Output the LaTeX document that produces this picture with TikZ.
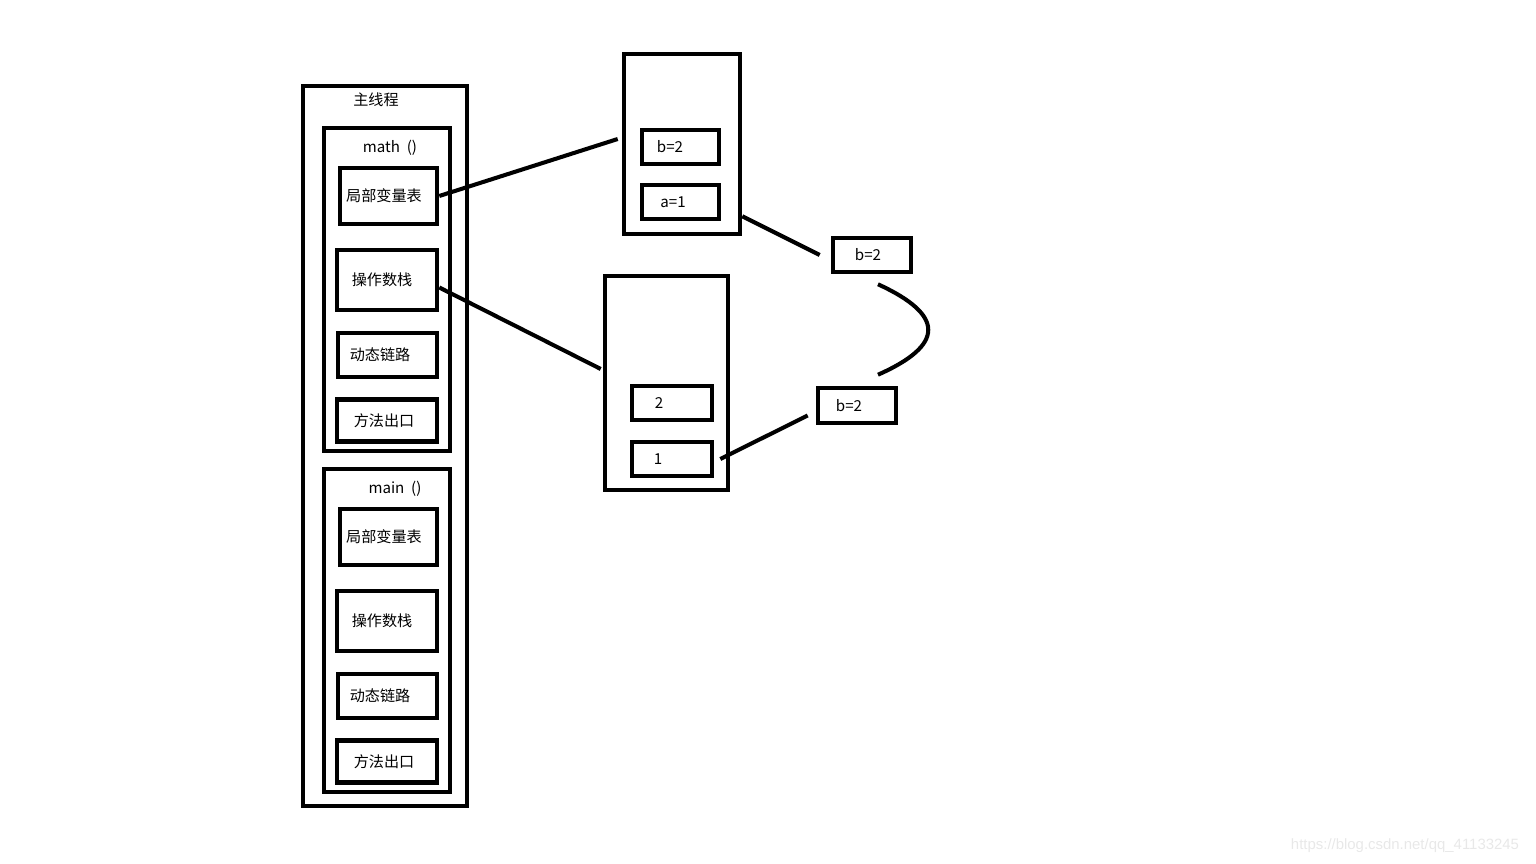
\documentclass[tikz,border=0pt]{standalone}
\usepackage{fontspec}
\setmainfont{Noto Sans CJK SC}
\newfontfamily\markfont{Liberation Sans}
\tikzset{
    frame/.style={draw, line width=2.6pt, inner sep=0pt},
    cell/.style={draw, line width=2.6pt, inner sep=0pt, font=\fontsize{8.6}{10}\selectfont},
    lbl/.style={font=\fontsize{8.6}{10}\selectfont},
    link/.style={line width=2.3pt},
    wm/.style={font=\markfont\fontsize{8.5}{10}\selectfont, text=black!9}
}
\begin{document}
\begin{tikzpicture}[x=0.02cm, y=-0.02cm]
    \useasboundingbox (0,0) rectangle (1536,864);

    % Main thread with its two stack frames
    \node[frame, minimum width=3.28cm, minimum height=14.4cm] (thread) at (385,446) {};
    \node[lbl] (threadname) at (376,100) {主线程};
    \foreach \f/\dy/\dx in {math/0/0, main/341/5} {
        \begin{scope}[shift={(0,\dy)}]
            \node[frame, minimum width=2.52cm, minimum height=6.46cm] (\f frame) at (387,289.5) {};
            \node[lbl] (\f name) at (390+\dx,148) {\f~~()};
            \node[cell, minimum width=1.94cm, minimum height=1.12cm] (\f lv) at (388.5,196) {局部变量表\kern0.18cm};
            \node[cell, minimum width=2cm, minimum height=1.2cm] (\f op) at (387,280) {\raisebox{-0.04cm}{操作数栈}\kern0.2cm};
            \node[cell, minimum width=1.98cm, minimum height=0.88cm] (\f dl) at (387.5,355) {\raisebox{-0.04cm}{动态链路}\kern0.3cm};
            \node[cell, minimum width=2cm, minimum height=0.85cm] (\f ex) at (387,420.5) {\raisebox{-0.05cm}{方法出口}\kern0.12cm};
        \end{scope}
    }

    % Local variable table of math()
    \node[frame, minimum width=2.32cm, minimum height=3.6cm] (lvframe) at (682,144) {};
    \node[cell, minimum width=1.54cm, minimum height=0.68cm] (vb) at (680.5,147) {b=2\kern0.42cm};
    \node[cell, minimum width=1.54cm, minimum height=0.68cm] (va) at (680.5,202) {a=1\kern0.3cm};

    % Operand stack of math()
    \node[frame, minimum width=2.46cm, minimum height=4.28cm] (opframe) at (666.5,383) {};
    \node[cell, minimum width=1.6cm, minimum height=0.68cm] (vtwo) at (672,403) {2\kern0.52cm};
    \node[cell, minimum width=1.6cm, minimum height=0.68cm] (vone) at (672,459) {1\kern0.56cm};

    % Values moved around
    \node[cell, minimum width=1.56cm, minimum height=0.68cm] (btop) at (872,255) {b=2\kern0.16cm};
    \node[cell, minimum width=1.56cm, minimum height=0.7cm] (bbot) at (857,405.5) {\raisebox{-0.06cm}{b=2}\kern0.32cm};

    % Connectors
    \draw[link] (mathlv.east) -- ([shift={(-0.08cm,0.1cm)}]lvframe.west);
    \draw[link] ([yshift=-0.15cm]mathop.east) -- ([shift={(-0.04cm,0.28cm)}]opframe.west);
    \draw[link] ([yshift=0.4cm]lvframe.south east) -- ([xshift=-0.22cm]btop.west);
    \draw[link] ([shift={(0.12cm,-0.2cm)}]btop.south) .. controls (945,315) and (945,345) .. ([shift={(0.42cm,0.22cm)}]bbot.north);
    \draw[link] ([xshift=0.12cm]vone.east) -- ([shift={(-0.16cm,-0.2cm)}]bbot.west);

    \node[wm] (mark) at (1405,846) {https://blog.csdn.net/qq\_41133245};
\end{tikzpicture}
\end{document}
